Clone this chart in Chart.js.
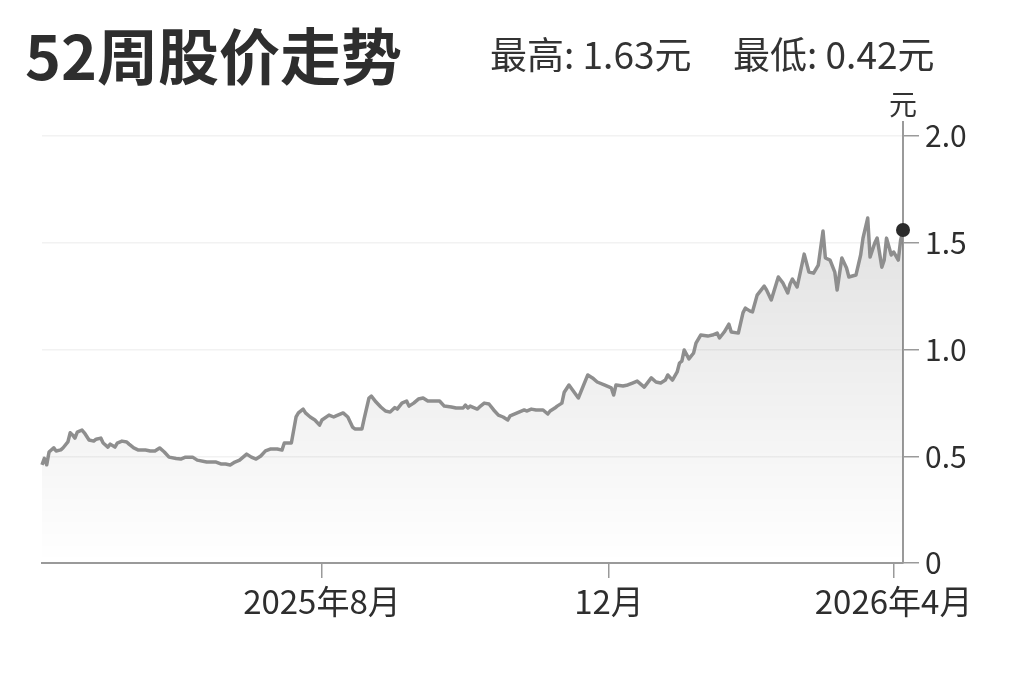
<!DOCTYPE html>
<html>
<head>
<meta charset="utf-8">
<script src="https://cdn.jsdelivr.net/npm/chart.js@4.4.1/dist/chart.umd.min.js"></script>
<style>
  html, body { margin:0; padding:0; background:#fff; }
  body { width:1023px; height:682px; position:relative; overflow:hidden; font-family:"Noto Sans CJK SC","Noto Sans",sans-serif; color:#2e2e2e; }
  #c { position:absolute; left:0; top:0; }
  .t { position:absolute; white-space:nowrap; line-height:1; }
  #title { left:25px; top:23px; font-size:61px; font-weight:700; }
  #hi { left:490px; top:35px; font-size:37px; color:#333; }
  #lo { left:733px; top:35px; font-size:37px; color:#333; }
  #unit { left:889px; top:89px; font-size:28px; color:#333; }
</style>
</head>
<body>
<canvas id="c" width="1023" height="682"></canvas>
<div class="t" id="title">52周股价走势</div>
<div class="t" id="hi">最高: 1.63元</div>
<div class="t" id="lo">最低: 0.42元</div>
<div class="t" id="unit">元</div>
<script>
// days since 2025-04-04, closing price (元)
const days = [
  0,1,2,3,5,6,8,9,11,12,13,14,15,17,18,20,22,23,25,26,28,29,31,32,34,36,37,39,41,44,46,48,50,52,54,57,59,61,64,66,70,74,76,
  78,80,82,84,87,89,91,93,95,97,100,102,103,106,108,109,111,112,114,116,118,119,122,124,125,128,130,132,133,136,137,139,140,142,144,146,
  148,150,151,153,155,156,158,160,162,164,169,171,174,176,179,180,181,182,185,186,188,190,192,194,196,198,199,202,205,206,208,210,213,215,216,218,219,221,
  222,224,228,232,234,236,239,242,243,244,247,249,251,253,256,259,261,263,265,266,268,270,271,272,273,275,277,278,280,283,285,287,288,290,292,293,296,
  298,299,301,302,304,305,307,308,310,313,315,317,318,319,321,324,326,328,330,332,333,335,337,338,340,342,343,346,348,349,351,352,354,355,357,358,359,361,362,364,365,366
];
const prices = [
  0.46,0.49,0.46,0.52,0.54,0.525,0.53,0.54,0.567,0.61,0.60,0.585,0.613,0.623,0.61,0.576,0.571,0.58,0.585,0.562,0.543,0.557,0.543,0.562,0.571,0.567,0.557,0.539,0.529,0.529,0.525,0.525,0.539,0.52,0.496,0.49,0.487,0.496,0.496,0.482,0.473,0.473,0.464,
  0.464,0.459,0.473,0.482,0.51,0.496,0.487,0.501,0.525,0.534,0.534,0.529,0.562,0.562,0.684,0.703,0.721,0.703,0.684,0.67,0.646,0.67,0.693,0.684,0.689,0.703,0.684,0.637,0.628,0.628,0.679,0.773,0.782,0.754,0.731,0.712,
  0.707,0.728,0.721,0.749,0.759,0.735,0.749,0.768,0.773,0.759,0.759,0.735,0.731,0.726,0.726,0.74,0.726,0.735,0.721,0.731,0.749,0.745,0.717,0.693,0.684,0.67,0.689,0.703,0.717,0.712,0.721,0.717,0.717,0.698,0.712,0.726,0.735,0.749,
  0.80,0.834,0.773,0.881,0.867,0.848,0.834,0.82,0.787,0.834,0.829,0.834,0.843,0.852,0.824,0.867,0.848,0.843,0.857,0.881,0.857,0.895,0.937,0.946,0.998,0.956,0.984,1.03,1.068,1.063,1.068,1.077,1.054,1.082,1.119,1.082,1.077,
  1.173,1.194,1.18,1.176,1.255,1.269,1.297,1.279,1.232,1.34,1.311,1.265,1.307,1.33,1.293,1.447,1.363,1.358,1.396,1.555,1.429,1.419,1.363,1.279,1.429,1.382,1.34,1.349,1.443,1.522,1.616,1.433,1.499,1.522,1.386,1.419,1.522,1.443,1.457,1.419,1.513,1.56
];
const xTickDays = [119, 241, 362];
const xTickLabels = ['2025年8月', '12月', '2026年4月'];
const yTicks = [0, 0.5, 1.0, 1.5, 2.0];
const yTickLabels = ['0', '0.5', '1.0', '1.5', '2.0'];

const n = Math.min(days.length, prices.length);
const pts = [];
for (let i = 0; i < n; i++) pts.push({ x: days[i], y: prices[i] });

const FONT = '"Noto Sans CJK SC", "Noto Sans", sans-serif';

const fillGrad = ctx => {
  const a = ctx.chart.chartArea;
  if (!a) return 'rgba(0,0,0,0.06)';
  const g = ctx.chart.ctx.createLinearGradient(0, a.top, 0, a.bottom);
  g.addColorStop(0, 'rgba(0,0,0,0.15)');
  g.addColorStop(1, 'rgba(0,0,0,0)');
  return g;
};

new Chart(document.getElementById('c'), {
  type: 'line',
  data: {
    datasets: [{
      data: pts,
      borderColor: '#8e8e8e',
      borderWidth: 3.5,
      borderJoinStyle: 'round',
      tension: 0,
      fill: 'origin',
      backgroundColor: fillGrad,
      pointRadius: ctx => ctx.dataIndex === n - 1 ? 7 : 0,
      pointBackgroundColor: '#2b2b2b',
      pointBorderWidth: 0,
      clip: 12
    }]
  },
  options: {
    responsive: false,
    animation: false,
    layout: { padding: { left: 42, top: 122, right: 0, bottom: 0 } },
    plugins: { legend: { display: false }, tooltip: { enabled: false } },
    scales: {
      x: {
        type: 'linear',
        min: 0, max: 366,
        afterBuildTicks: s => { s.ticks = xTickDays.map(v => ({ value: v })); },
        afterFit: s => { s.height = 119; },
        border: { color: '#9a9a9a', width: 2 },
        grid: { drawOnChartArea: false, tickLength: 15, tickColor: '#9a9a9a', lineWidth: 1.5 },
        ticks: {
          autoSkip: false, maxRotation: 0, padding: 4,
          color: '#2e2e2e', font: { family: FONT, size: 33 },
          callback: v => xTickLabels[xTickDays.indexOf(v)] ?? ''
        }
      },
      y: {
        position: 'right',
        min: 0, max: 2.066,
        afterBuildTicks: s => { s.ticks = yTicks.map(v => ({ value: v })); },
        afterFit: s => { s.width = 120; },
        border: { color: '#9a9a9a', width: 2 },
        grid: { color: '#f2f2f2', lineWidth: 1.5, tickLength: 16, tickColor: '#9a9a9a' },
        ticks: {
          padding: 6, color: '#2e2e2e', font: { family: FONT, size: 30 },
          callback: v => yTickLabels[yTicks.indexOf(v)] ?? ''
        }
      }
    }
  }
});
</script>
</body>
</html>
